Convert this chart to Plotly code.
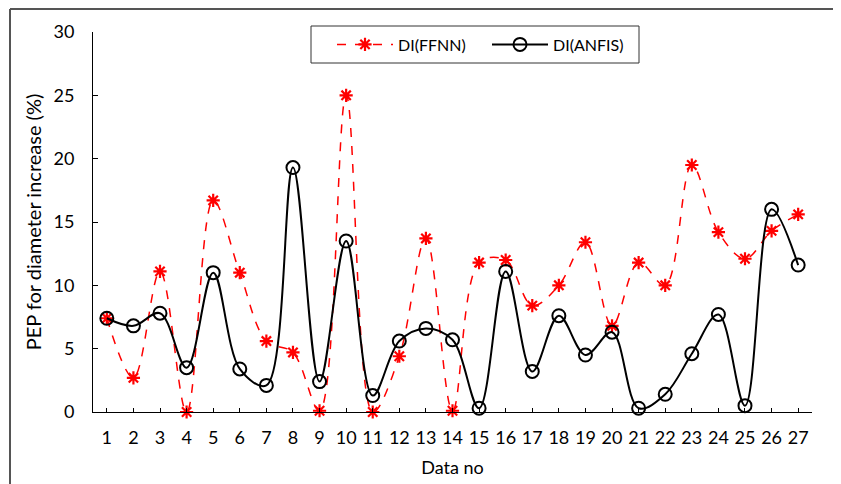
import plotly.graph_objects as go

data_no = list(range(1, 28))
di_ffnn = [7.4, 2.7, 11.1, 0.0, 16.7, 11.0, 5.6, 4.7, 0.1, 25.0, 0.0, 4.4, 13.7, 0.1,
           11.8, 12.0, 8.4, 10.0, 13.4, 6.8, 11.8, 10.0, 19.5, 14.2, 12.1, 14.3, 15.6]
di_anfis = [7.4, 6.8, 7.8, 3.5, 11.0, 3.4, 2.1, 19.3, 2.4, 13.5, 1.3, 5.6, 6.6, 5.7,
            0.3, 11.1, 3.2, 7.6, 4.5, 6.3, 0.3, 1.4, 4.6, 7.7, 0.5, 16.0, 11.6]
y_ticks = [0, 5, 10, 15, 20, 25, 30]

FONT = "Lato"

# page has an 8px body margin; figure is sized so the plot area lands at page px x 93..812, y 32..412
def px_x(p):
    return (p - 93) / 719.0

def px_y(p):
    return (412 - p) / 380.0

fig = go.Figure()
fig.add_trace(go.Scatter(
    x=data_no, y=di_ffnn, name="DI(FFNN)", mode="lines+markers",
    line=dict(color="#ff0000", width=1.5, dash="dash", shape="spline", smoothing=1.0),
    marker=dict(symbol="asterisk", size=11, color="#ff0000",
                line=dict(color="#ff0000", width=2.2)),
    cliponaxis=False,
))
fig.add_trace(go.Scatter(
    x=data_no, y=di_anfis, name="DI(ANFIS)", mode="lines+markers",
    line=dict(color="#000000", width=2, shape="spline", smoothing=1.0),
    marker=dict(symbol="circle-open", size=13, color="#000000",
                line=dict(color="#000000", width=2)),
    cliponaxis=False,
))

# outer frame
fig.add_shape(type="line", xref="paper", yref="paper", x0=px_x(10), x1=px_x(842), y0=px_y(9), y1=px_y(9),
              line=dict(color="#555555", width=2))
fig.add_shape(type="line", xref="paper", yref="paper", x0=px_x(10), x1=px_x(10), y0=px_y(9), y1=px_y(500),
              line=dict(color="#555555", width=2))
fig.add_shape(type="line", xref="paper", yref="paper", x0=px_x(839.5), x1=px_x(839.5), y0=px_y(9), y1=px_y(500),
              line=dict(color="#dddddd", width=1))
# legend box
fig.add_shape(type="rect", xref="paper", yref="paper", x0=px_x(311), x1=px_x(639), y0=px_y(26), y1=px_y(63),
              line=dict(color="#333333", width=1), fillcolor="white", layer="below")

fig.update_layout(
    width=833, height=476,
    margin=dict(l=85, r=29, t=24, b=72, autoexpand=False),
    paper_bgcolor="white", plot_bgcolor="rgba(0,0,0,0)",
    font=dict(family=FONT, size=16, color="black"),
    showlegend=True,
    legend=dict(
        orientation="h", x=px_x(332), y=px_y(44.5), xanchor="left", yanchor="middle",
        borderwidth=0, bgcolor="rgba(0,0,0,0)",
        font=dict(family=FONT, size=16, color="black"),
        itemwidth=56, entrywidth=84,
    ),
    xaxis=dict(
        range=[0.48, 27.52], tickmode="array", tickvals=data_no,
        ticktext=[str(v) for v in data_no],
        ticks="inside", ticklen=4, tickcolor="black",
        showline=True, linecolor="black", linewidth=1,
        showgrid=False, zeroline=False, automargin=False,
        tickfont=dict(family=FONT, size=18),
        ticklabelstandoff=9,
        title=dict(text="Data no", font=dict(family=FONT, size=18), standoff=14),
    ),
    yaxis=dict(
        range=[0, 30], tickmode="array", tickvals=y_ticks,
        ticks="inside", ticklen=5, tickcolor="black",
        showline=True, linecolor="black", linewidth=1,
        showgrid=False, zeroline=False, automargin=False,
        tickfont=dict(family=FONT, size=18),
        ticklabelstandoff=14,
        title=dict(text="PEP for diameter increase (%)", font=dict(family=FONT, size=20), standoff=6),
    ),
)

fig.write_html("out.html")
